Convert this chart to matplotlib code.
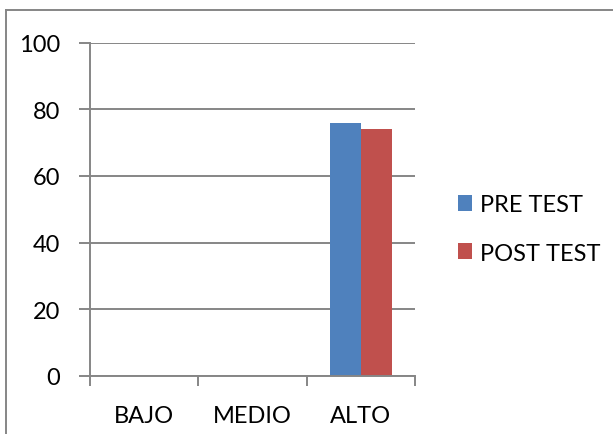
import numpy as np
import matplotlib
matplotlib.use("Agg")
from matplotlib import pyplot as plt
from matplotlib.lines import Line2D

plt.rcParams['font.family'] = ['Lato', 'DejaVu Sans']

categories = ["BAJO", "MEDIO", "ALTO"]
series_names = ["PRE TEST", "POST TEST"]
pre_test = [0, 0, 76]
post_test = [0, 0, 74]
y_ticks = [0, 20, 40, 60, 80, 100]

colors = ["#4F81BD", "#C0504D"]
grey = "#868686"
fs = 17

W, H = 613, 435
fig = plt.figure(figsize=(W / 100, H / 100), dpi=100)
ax = fig.add_axes([89.5 / W, 1 - 377 / H, (415 - 89.5) / W, (377 - 43.5) / H])

x = np.arange(len(categories))
width = 1 / 3.5  # excel gap width 150%
b1 = ax.bar(x - width / 2, pre_test, width, color=colors[0], label=series_names[0], zorder=3)
b2 = ax.bar(x + width / 2, post_test, width, color=colors[1], label=series_names[1], zorder=3)

ax.set_xlim(-0.5, len(categories) - 0.5)
ax.set_ylim(0, 100)
ax.set_yticks(y_ticks)
ax.set_yticklabels([str(v) for v in y_ticks], fontsize=fs)
ax.set_xticks(x)
ax.set_xticklabels(categories, fontsize=fs)
ax.set_xticks(np.arange(-0.5, len(categories)), minor=True)
ax.tick_params(axis='x', which='major', length=0, pad=21)
ax.tick_params(axis='x', which='minor', length=7, width=1.4, color=grey, direction='out')
ax.tick_params(axis='y', length=8, width=1.4, color=grey, pad=13, direction='out')

ax.yaxis.grid(True, color=grey, linewidth=1.4, zorder=0)
ax.set_axisbelow(True)
for s in ["top", "right"]:
    ax.spines[s].set_visible(False)
for s in ["left", "bottom"]:
    ax.spines[s].set_color(grey)
    ax.spines[s].set_linewidth(1.4)
    ax.spines[s].set_zorder(4)

fig.legend(handles=[b1, b2], loc='center left', bbox_to_anchor=(458 / W, 1 - 230 / H),
           frameon=False, fontsize=fs, handlelength=0.6, handleheight=0.65,
           handletextpad=0.35, labelspacing=1.15, borderpad=0, borderaxespad=0)

# outer chart border (only top and left visible in the crop)
fig.add_artist(Line2D([6 / W, 6 / W], [0, 1 - 11 / H], transform=fig.transFigure, color=grey, lw=1.4))
fig.add_artist(Line2D([6 / W, 1], [1 - 11 / H, 1 - 11 / H], transform=fig.transFigure, color=grey, lw=1.4))

fig.savefig("out.png", dpi=100)
